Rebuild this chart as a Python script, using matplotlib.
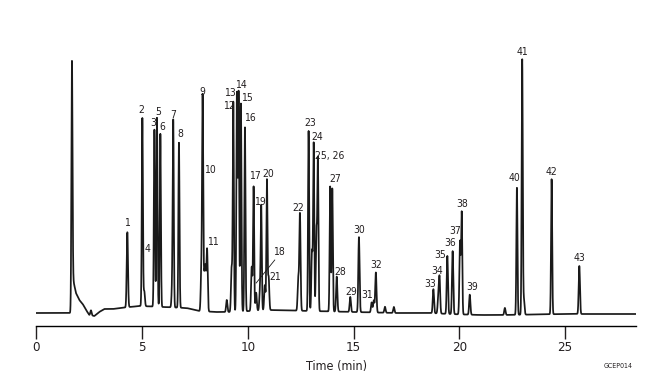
import matplotlib
matplotlib.use("Agg")
import matplotlib.pyplot as plt
import numpy as np

plt.rcParams['font.family'] = ['DejaVu Sans']
plt.rcParams['font.stretch'] = 'condensed'

# peak retention times (min) and heights (arbitrary units above baseline)
peak_times = [1.68, 2.58, 4.30, 5.01, 5.10, 5.58, 5.70, 5.86, 6.42, 6.47, 6.74,
              7.80, 7.86, 7.93, 7.99, 8.07, 9.00, 9.23, 9.31, 9.48, 9.56, 9.67,
              9.86, 10.18, 10.27, 10.39, 10.57, 10.63, 10.80, 10.90, 10.98,
              12.38, 12.46, 12.87, 13.03, 13.11, 13.24, 13.31, 13.89, 13.99,
              14.20, 14.84, 15.25, 15.85, 15.95, 16.05, 16.48, 16.90, 18.77,
              19.00, 19.06, 19.43, 19.68, 20.03, 20.11, 20.49, 22.15, 22.72,
              22.97, 23.05, 24.36, 25.67]
peak_heights = [240, 5, 75, 188, 15, 177, 189, 173, 20, 183, 165,
                40, 210, 30, 41, 62, 12, 44, 209, 218, 219, 208,
                184, 44, 124, 18, 19, 103, 25, 130, 33,
                31, 97, 180, 60, 167, 80, 149, 125, 123,
                35, 15, 75, 10, 12, 40, 6, 6, 24,
                15, 36, 58, 63, 73, 101, 20, 7, 127,
                255, 15, 135, 48]

# baseline drift (includes solvent tail)
base_t = [0, 1.66, 1.72, 1.87, 2.03, 2.19, 2.35, 2.50, 2.74, 2.97, 3.21, 3.61,
          4.4, 4.9, 6.0, 7.1, 7.7, 8.5, 9.2, 11.0, 13.0, 15.0, 17.0, 18.6,
          19.5, 21.0, 22.0, 25.0, 28.35]
base_h = [0, 0, 35, 20, 13, 9, 3, -2, -3, 1, 4, 4,
          6, 7, 6, 5, 2, 1, 1, 3, 2, 1, 0, 0,
          -1, -2, -2, -1, -1]

# peak labels: text, time, height
label_text = ['1', '2', '3', '4', '5', '6', '7', '8', '9', '10', '11', '12', '13',
              '14', '15', '16', '17', '18', '19', '20', '21', '22', '23', '24',
              '25, 26', '27', '28', '29', '30', '31', '32', '33', '34', '35',
              '36', '37', '38', '39', '40', '41', '42', '43']
label_t = [4.27, 4.98, 5.50, 5.24, 5.77, 5.97, 6.47, 6.80, 7.84, 8.21, 8.34,
           9.11, 9.16, 9.67, 9.97, 10.10, 10.35, 11.48, 10.59, 10.98, 11.28,
           12.38, 12.93, 13.28, 13.85, 14.12, 14.36, 14.88, 15.27, 15.66,
           16.06, 18.64, 18.96, 19.08, 19.56, 19.79, 20.11, 20.58, 22.58,
           22.97, 24.36, 25.67]
label_h = [90, 203, 190, 64, 201, 186, 198, 179, 221, 143, 71, 207, 220, 228,
           215, 195, 137, 61, 111, 139, 36, 105, 190, 176, 157, 134, 41, 21,
           83, 18, 48, 29, 42, 58, 70, 82, 109, 26, 135, 261, 141, 55]

t = np.linspace(0, 28.35, 20000)
signal = np.interp(t, base_t, base_h)
for t0, h in zip(peak_times, peak_heights):
    s = 0.026 if h > 100 else 0.03
    signal += h * np.exp(-0.5 * ((t - t0) / s) ** 2)

fig = plt.figure(figsize=(6.54, 3.78), dpi=100)
ax = fig.add_axes([36.4 / 654, 52 / 378, (636 - 36.4) / 654, 286 / 378])
ax.plot(t, signal, color='#1a1a1a', linewidth=1.25)

# leader line for peak 18
ax.plot([10.39, 11.27], [30, 53], color='#1a1a1a', linewidth=0.6)

for txt, lt, lh in zip(label_text, label_t, label_h):
    ax.text(lt, lh, txt, fontsize=7.5, color='#231f20', ha='center', va='center')

ax.set_xlim(0, 28.35)
ax.set_ylim(-13, 273)
for side in ['top', 'right', 'left']:
    ax.spines[side].set_visible(False)
ax.spines['bottom'].set_linewidth(1.0)
ax.set_yticks([])
ax.set_xticks([0, 5, 10, 15, 20, 25])
ax.tick_params(axis='x', direction='out', length=9, width=1.0,
               labelsize=9.5, pad=2, colors='#231f20')
ax.set_xlabel('Time (min)', fontsize=9, color='#231f20', labelpad=4)

fig.text(618 / 654, 1 - 366 / 378, 'GCEP014', fontsize=5, color='#231f20',
         ha='center', va='center')

fig.savefig('out.png', dpi=100)
